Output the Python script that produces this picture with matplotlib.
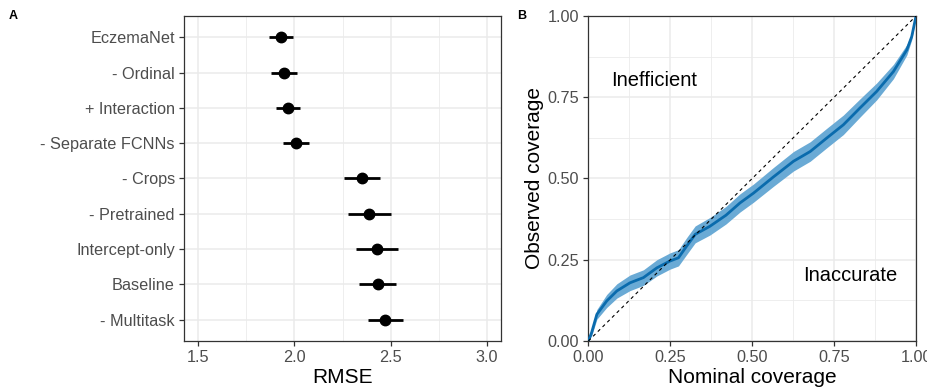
import matplotlib
matplotlib.use("Agg")
import matplotlib.pyplot as plt
import numpy as np

plt.rcParams["font.family"] = ["Liberation Sans", "DejaVu Sans"]

# Panel A: RMSE with intervals
models = ["EczemaNet", "- Ordinal", "+ Interaction", "- Separate FCNNs", "- Crops",
          "- Pretrained", "Intercept-only", "Baseline", "- Multitask"]
rmse = [1.931, 1.946, 1.969, 2.007, 2.349, 2.389, 2.427, 2.432, 2.472]
rmse_lo = [1.867, 1.879, 1.906, 1.940, 2.258, 2.280, 2.320, 2.337, 2.382]
rmse_hi = [1.991, 2.014, 2.029, 2.074, 2.443, 2.500, 2.536, 2.526, 2.564]

# Panel B: coverage calibration
nominal = [0.0, 0.010, 0.026, 0.056, 0.087, 0.127, 0.168, 0.209, 0.249, 0.275, 0.300,
           0.326, 0.371, 0.420, 0.463, 0.504, 0.565, 0.626, 0.677, 0.727, 0.778,
           0.829, 0.880, 0.931, 0.972, 0.987, 1.0]
observed = [0.0, 0.026, 0.082, 0.123, 0.154, 0.179, 0.195, 0.225, 0.246, 0.256, 0.292,
            0.328, 0.353, 0.387, 0.425, 0.455, 0.505, 0.553, 0.583, 0.624, 0.665,
            0.717, 0.768, 0.829, 0.896, 0.937, 1.0]
band_half = [0.0, 0.01, 0.015, 0.02, 0.022, 0.024, 0.024, 0.025, 0.025, 0.025, 0.026,
             0.026, 0.027, 0.027, 0.028, 0.028, 0.029, 0.03, 0.03, 0.03, 0.03,
             0.028, 0.026, 0.022, 0.016, 0.01, 0.0]

TICK_GREY = "#4D4D4D"
GRID = "#EBEBEB"


def style_axes(ax):
    for s in ax.spines.values():
        s.set_color("#333333")
        s.set_linewidth(0.9)
    ax.tick_params(colors="#333333", labelcolor=TICK_GREY, labelsize=11.7,
                   length=3.5, width=0.9, pad=3)
    ax.tick_params(which="minor", length=0)
    ax.grid(True, which="major", color=GRID, lw=1.1)
    ax.grid(True, which="minor", color=GRID, lw=0.6)
    ax.set_axisbelow(True)


fig = plt.figure(figsize=(9.28, 3.89), dpi=100)

axA = fig.add_axes([0.1983, 0.1234, 0.3416, 0.8355])
y = np.arange(len(models))
est = np.array(rmse)
axA.errorbar(est, y, xerr=[est - np.array(rmse_lo), np.array(rmse_hi) - est],
             fmt="o", color="black", ms=7.5, elinewidth=2, capsize=0, zorder=3)
axA.set_yticks(y)
axA.set_yticklabels(models)
axA.set_ylim(len(models) - 1 + 0.6, -0.6)
axA.set_xlim(1.427, 3.073)
axA.set_xticks([1.5, 2.0, 2.5, 3.0])
axA.set_xticks([1.75, 2.25, 2.75], minor=True)
axA.set_xlabel("RMSE", fontsize=15, labelpad=2.5)
style_axes(axA)
fig.text(0.009, 0.958, "A", fontsize=9, fontweight="bold", va="center")

axB = fig.add_axes([0.634, 0.1234, 0.3531, 0.8355])
nom = np.array(nominal)
obs = np.array(observed)
hw = np.array(band_half)
axB.fill_between(nom, obs - hw, obs + hw, color="#6AAAD5", lw=0, zorder=2)
axB.plot(nom, obs, color="#0A6BAD", lw=2, zorder=3)
axB.plot([0, 1], [0, 1], color="black", lw=0.8, ls=(0, (3, 3)), zorder=4)
axB.set_xlim(0, 1)
axB.set_ylim(0, 1)
ticks = [0, 0.25, 0.5, 0.75, 1.0]
tick_labels = ["0.00", "0.25", "0.50", "0.75", "1.00"]
axB.set_xticks(ticks)
axB.set_yticks(ticks)
axB.set_xticklabels(tick_labels)
axB.set_yticklabels(tick_labels)
axB.set_xticks([0.125, 0.375, 0.625, 0.875], minor=True)
axB.set_yticks([0.125, 0.375, 0.625, 0.875], minor=True)
axB.set_xlabel("Nominal coverage", fontsize=15, labelpad=2.5)
axB.set_ylabel("Observed coverage", fontsize=15, labelpad=3)
axB.text(0.2, 0.8, "Inefficient", fontsize=14.5, ha="center", va="center")
axB.text(0.8, 0.2, "Inaccurate", fontsize=14.5, ha="center", va="center")
style_axes(axB)
fig.text(0.557, 0.958, "B", fontsize=9, fontweight="bold", va="center")

fig.savefig("out.png", dpi=100)
